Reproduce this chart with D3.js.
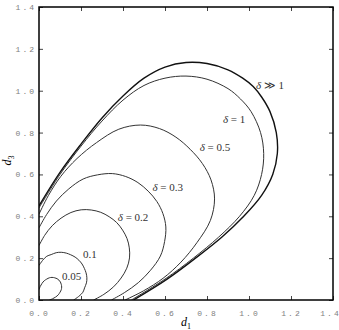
<!DOCTYPE html>
<html>
<head>
<meta charset="utf-8">
<script src="https://cdn.jsdelivr.net/npm/d3@7"></script>
<style>
  body { margin: 0; background: #fff; }
</style>
</head>
<body>
<div id="chart"></div>
<script>
// tick values on both axes
var xTicks = [0, 0.2, 0.4, 0.6, 0.8, 1.0, 1.2, 1.4];
var yTicks = [0, 0.2, 0.4, 0.6, 0.8, 1.0, 1.2, 1.4];

// contour points [d1, d3], one list per delta
var curve005 = [[0, 0.05], [0.006, 0.065], [0.014, 0.079], [0.025, 0.092], [0.037, 0.1], [0.049, 0.106],
    [0.062, 0.108], [0.075, 0.106], [0.086, 0.102], [0.095, 0.095], [0.102, 0.086], [0.106, 0.075],
    [0.108, 0.062], [0.106, 0.049], [0.1, 0.037], [0.092, 0.025], [0.079, 0.014], [0.065, 0.006], [0.05, 0]];
var curve01 = [[0, 0.165], [0.017, 0.189], [0.037, 0.209], [0.058, 0.217], [0.082, 0.226], [0.106, 0.228],
    [0.13, 0.224], [0.151, 0.216], [0.172, 0.205], [0.19, 0.19], [0.205, 0.172], [0.216, 0.151],
    [0.224, 0.13], [0.228, 0.106], [0.226, 0.082], [0.217, 0.058], [0.209, 0.037], [0.189, 0.017], [0.165, 0]];
var curve02 = [[0, 0.26], [0.027, 0.309], [0.063, 0.355], [0.105, 0.391], [0.152, 0.418], [0.201, 0.431],
    [0.249, 0.43], [0.294, 0.419], [0.334, 0.398], [0.37, 0.37], [0.398, 0.334], [0.419, 0.294],
    [0.43, 0.249], [0.431, 0.201], [0.418, 0.152], [0.391, 0.105], [0.355, 0.063], [0.309, 0.027], [0.26, 0]];
var curve03 = [[0, 0.345], [0.036, 0.408], [0.083, 0.473], [0.142, 0.531], [0.21, 0.578], [0.279, 0.598],
    [0.349, 0.604], [0.413, 0.59], [0.471, 0.561], [0.52, 0.52], [0.561, 0.471], [0.59, 0.413],
    [0.604, 0.349], [0.598, 0.279], [0.578, 0.21], [0.531, 0.142], [0.473, 0.083], [0.408, 0.036], [0.345, 0]];
var curve05 = [[0, 0.41], [0.044, 0.498], [0.104, 0.591], [0.181, 0.676], [0.274, 0.752], [0.38, 0.816],
    [0.483, 0.836], [0.574, 0.819], [0.652, 0.778], [0.72, 0.72], [0.778, 0.652], [0.819, 0.574],
    [0.836, 0.483], [0.816, 0.38], [0.752, 0.274], [0.676, 0.181], [0.591, 0.104], [0.498, 0.044], [0.41, 0]];
var curve1 = [[0, 0.44], [0.1, 0.6], [0.2, 0.735], [0.3, 0.855], [0.4, 0.955], [0.5, 1.025],
    [0.6, 1.06], [0.7, 1.07], [0.8, 1.055], [0.9, 1.01], [0.96, 0.96], [1.01, 0.9], [1.055, 0.8],
    [1.07, 0.7], [1.06, 0.6], [1.025, 0.5], [0.955, 0.4], [0.855, 0.3], [0.735, 0.2], [0.6, 0.1],
    [0.44, 0]];
var curveInf = [[0, 0.45], [0.1, 0.61], [0.2, 0.745], [0.3, 0.87], [0.4, 0.975], [0.5, 1.06],
    [0.6, 1.113], [0.7, 1.135], [0.8, 1.13], [0.9, 1.1], [0.97, 1.06], [1.02, 1.02], [1.06, 0.97],
    [1.1, 0.9], [1.13, 0.8], [1.135, 0.7], [1.113, 0.6], [1.06, 0.5], [0.975, 0.4], [0.87, 0.3],
    [0.745, 0.2], [0.61, 0.1], [0.45, 0]];

var curves = [curve005, curve01, curve02, curve03, curve05, curve1, curveInf];

// labels: text and anchor point [d1, d3]
var labelText = ['0.05', '0.1', 'δ = 0.2', 'δ = 0.3', 'δ = 0.5', 'δ = 1', 'δ ≫ 1'];
var labelPos = [[0.11, 0.096], [0.21, 0.2], [0.375, 0.377], [0.54, 0.52], [0.765, 0.712],
    [0.876, 0.846], [1.033, 1.008]];

var svgWidth = 339,
    svgHeight = 330,
    margin = { top: 7, right: 6, bottom: 30, left: 39 },
    width = svgWidth - margin.left - margin.right,
    height = svgHeight - margin.top - margin.bottom;

var x = d3.scaleLinear().domain([0, 1.4]).range([0, width]),
    y = d3.scaleLinear().domain([0, 1.4]).range([height, 0]);

var svg = d3.select('#chart').append('svg')
    .attr('width', svgWidth)
    .attr('height', svgHeight)
    .append('g')
    .attr('transform', 'translate(' + margin.left + ',' + margin.top + ')');

svg.append('clipPath')
    .attr('id', 'plot-clip')
    .append('rect')
    .attr('width', width)
    .attr('height', height);

// axes with inward ticks on all four sides
var fmt = d3.format('.1f');
var xAxisG = svg.append('g')
    .attr('transform', 'translate(0,' + height + ')')
    .call(d3.axisBottom(x).tickValues(xTicks).tickFormat(fmt).tickSizeInner(-4).tickSizeOuter(0).tickPadding(10));
svg.append('g')
    .call(d3.axisLeft(y).tickValues(yTicks).tickFormat(fmt).tickSizeInner(-4).tickSizeOuter(0).tickPadding(3));
svg.append('g')
    .call(d3.axisTop(x).tickValues(xTicks).tickFormat('').tickSizeInner(-4).tickSizeOuter(0));
svg.append('g')
    .attr('transform', 'translate(' + width + ',0)')
    .call(d3.axisRight(y).tickValues(yTicks).tickFormat('').tickSizeInner(-4).tickSizeOuter(0));

svg.selectAll('.domain').remove();
svg.selectAll('.tick line').attr('stroke', '#444');
svg.selectAll('.tick text')
    .attr('fill', '#808080')
    .style('font-family', 'Liberation Mono, monospace')
    .style('font-size', '8px')
    .style('letter-spacing', '2px');
// last x label sits at the window edge, nudge it in
xAxisG.selectAll('.tick text').filter(function (d) { return d === 1.4; }).attr('dx', -3);

var line = d3.line()
    .x(function (d) { return x(d[0]); })
    .y(function (d) { return y(d[1]); })
    .curve(d3.curveCatmullRom.alpha(0.5));

svg.append('g')
    .attr('clip-path', 'url(#plot-clip)')
    .selectAll('path')
    .data(curves)
    .enter().append('path')
    .attr('d', line)
    .attr('fill', 'none')
    .attr('stroke', function (d, i) { return i === curves.length - 1 ? '#111' : '#333'; })
    .attr('stroke-width', function (d, i) { return i === curves.length - 1 ? 1.4 : 1; });

// frame
svg.append('rect')
    .attr('width', width)
    .attr('height', height)
    .attr('fill', 'none')
    .attr('stroke', '#000')
    .attr('stroke-width', 1.5);

// curve labels
var labels = svg.append('g')
    .style('font-family', 'Liberation Serif, serif')
    .style('font-size', '11px');
labelText.forEach(function (t, i) {
    var txt = labels.append('text')
        .attr('fill', '#333')
        .attr('x', x(labelPos[i][0]))
        .attr('y', y(labelPos[i][1]));
    if (t.indexOf('δ') === 0) {
        txt.append('tspan').attr('fill', '#333').style('font-style', 'italic').text('δ');
        txt.append('tspan').attr('fill', '#333').text(t.slice(1));
    } else {
        txt.text(t);
    }
});

// axis titles
var xt = svg.append('text')
    .attr('x', width / 2)
    .attr('y', height + 26)
    .attr('text-anchor', 'middle')
    .style('font-family', 'Liberation Serif, serif')
    .style('font-size', '12px');
xt.append('tspan').style('font-style', 'italic').text('d');
xt.append('tspan').attr('dy', 3).style('font-size', '8px').text('1');

var yt = svg.append('text')
    .attr('transform', 'translate(' + (-28) + ',' + (height / 2 + 7) + ') rotate(-90)')
    .attr('text-anchor', 'middle')
    .style('font-family', 'Liberation Serif, serif')
    .style('font-size', '12px');
yt.append('tspan').style('font-style', 'italic').text('d');
yt.append('tspan').attr('dy', 3).style('font-size', '8px').text('3');
</script>
</body>
</html>
